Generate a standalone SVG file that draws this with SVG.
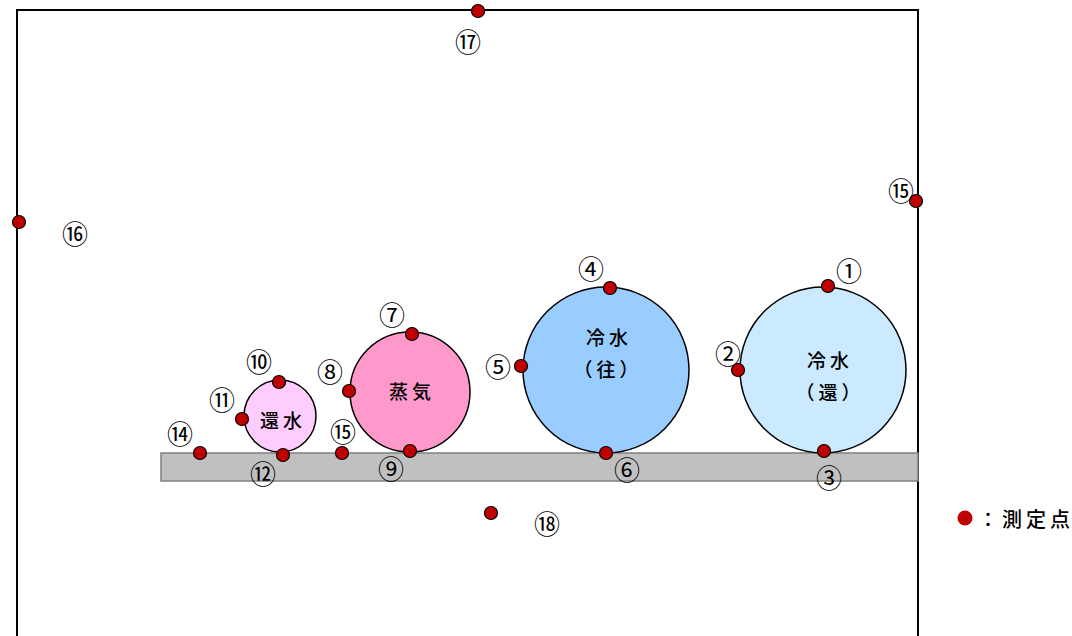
<svg xmlns="http://www.w3.org/2000/svg" width="1072" height="636" viewBox="0 0 1072 636">
  <style>
    .frame { fill: none; stroke: #000; stroke-width: 2; }
    .base { fill: #c0c0c0; stroke: #808080; stroke-width: 1.5; }
    .pipe { stroke: #000; stroke-width: 1.5; }
    .pt { fill: #c00000; stroke: #000; stroke-width: 1.2; }
    .lbl { font-family: "Noto Sans CJK JP", "Noto Sans", sans-serif; font-size: 26px; fill: #000; text-anchor: middle; dominant-baseline: central; }
    .name { font-family: "Noto Sans CJK JP", sans-serif; font-size: 19px; font-weight: 500; fill: #000; text-anchor: middle; dominant-baseline: central; letter-spacing: 4px; }
  </style>

  <!-- enclosure outline (open at the bottom) -->
  <g id="enclosure">
    <path class="frame" d="M17,640 V10 H918 V640"/>
  </g>

  <!-- supporting slab -->
  <g id="slab">
    <rect class="base" x="161" y="453" width="757" height="28"/>
  </g>

  <!-- pipes -->
  <g id="pipe-chw-return">
    <circle class="pipe" cx="823" cy="370" r="83" fill="#cceaff"/>
    <text class="name" x="830" y="359">冷水</text>
    <text class="name" x="830" y="391">（還）</text>
  </g>
  <g id="pipe-chw-supply">
    <circle class="pipe" cx="606" cy="370" r="83" fill="#99ccff"/>
    <text class="name" x="609" y="336">冷水</text>
    <text class="name" x="608" y="368">（往）</text>
  </g>
  <g id="pipe-steam">
    <circle class="pipe" cx="410" cy="392" r="60" fill="#ff99cc"/>
    <text class="name" x="412" y="390">蒸気</text>
  </g>
  <g id="pipe-condensate">
    <circle class="pipe" cx="280" cy="416" r="36" fill="#ffccff"/>
    <text class="name" x="283" y="419">還水</text>
  </g>

  <!-- measurement points -->
  <g id="points">
    <circle class="pt" cx="828" cy="286" r="6.5"/>
    <circle class="pt" cx="738" cy="370" r="6.5"/>
    <circle class="pt" cx="824" cy="451" r="6.5"/>
    <circle class="pt" cx="610" cy="288" r="6.5"/>
    <circle class="pt" cx="521" cy="366" r="6.5"/>
    <circle class="pt" cx="606" cy="453" r="6.5"/>
    <circle class="pt" cx="412" cy="334" r="6.5"/>
    <circle class="pt" cx="349" cy="391" r="6.5"/>
    <circle class="pt" cx="410" cy="451" r="6.5"/>
    <circle class="pt" cx="279" cy="382" r="6.5"/>
    <circle class="pt" cx="242" cy="419" r="6.5"/>
    <circle class="pt" cx="283" cy="455" r="6.5"/>
    <circle class="pt" cx="200" cy="453" r="6.5"/>
    <circle class="pt" cx="342" cy="453" r="6.5"/>
    <circle class="pt" cx="916" cy="201" r="6.5"/>
    <circle class="pt" cx="19" cy="222" r="6.5"/>
    <circle class="pt" cx="478" cy="11" r="6.5"/>
    <circle class="pt" cx="491" cy="513" r="6.5"/>
  </g>

  <!-- point numbers -->
  <g id="labels">
    <text class="lbl" x="849" y="269">①</text>
    <text class="lbl" x="728" y="352">②</text>
    <text class="lbl" x="829" y="476">③</text>
    <text class="lbl" x="591" y="267">④</text>
    <text class="lbl" x="498" y="365">⑤</text>
    <text class="lbl" x="627" y="468">⑥</text>
    <text class="lbl" x="392" y="313">⑦</text>
    <text class="lbl" x="330" y="370">⑧</text>
    <text class="lbl" x="391" y="467">⑨</text>
    <text class="lbl" x="259" y="360">⑩</text>
    <text class="lbl" x="222" y="398">⑪</text>
    <text class="lbl" x="263" y="472">⑫</text>
    <text class="lbl" x="180" y="432">⑭</text>
    <text class="lbl" x="343" y="430">⑮</text>
    <text class="lbl" x="901" y="189">⑮</text>
    <text class="lbl" x="75" y="232">⑯</text>
    <text class="lbl" x="468" y="40">⑰</text>
    <text class="lbl" x="547" y="522">⑱</text>
  </g>

  <!-- legend -->
  <g id="legend">
    <circle cx="965" cy="518" r="7.5" fill="#c00000"/>
    <text x="978" y="518" font-family="Noto Sans CJK JP, sans-serif" font-size="20" font-weight="500" dominant-baseline="central" letter-spacing="4">：測定点</text>
  </g>
</svg>
